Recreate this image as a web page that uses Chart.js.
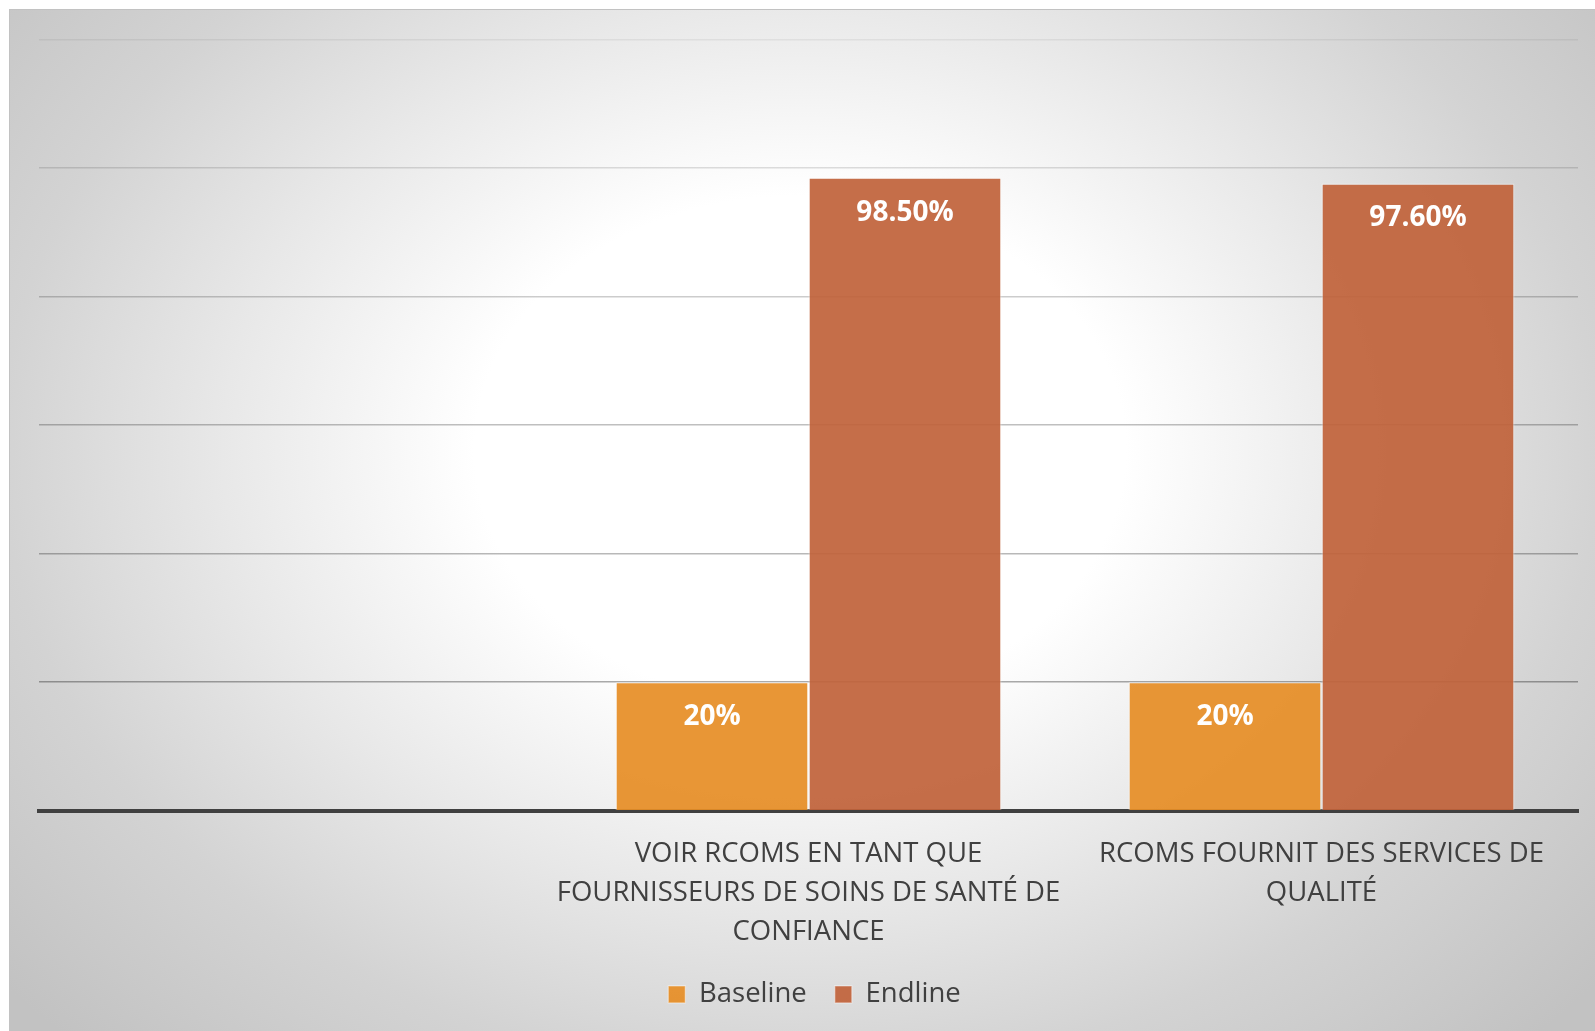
<!DOCTYPE html>
<html>
<head>
<meta charset="utf-8">
<script src="https://cdn.jsdelivr.net/npm/chart.js@4/dist/chart.umd.min.js"></script>
<style>
  html, body { margin: 0; padding: 0; background: #ffffff; }
  #panel {
    position: absolute; left: 9px; top: 9px; width: 1585px; height: 1022px;
    border-top: 1px solid #c2c2c2; border-left: 1px solid #c2c2c2; border-right: 1px solid #bdbdbd;
    background: radial-gradient(ellipse 1050px 820px at 790px 440px, #ffffff 0%, #ffffff 31%, #e8e8e8 55%, #d3d3d3 76%, #c2c2c2 100%);
  }
  #wrap { position: absolute; left: 0; top: 0; width: 1585px; height: 1022px; }
</style>
</head>
<body>
<div id="panel"><div id="wrap"><canvas id="c"></canvas></div></div>
<script>
// ---- data ----
const categories = [
  "",
  ["VOIR RCOMS EN TANT QUE", "FOURNISSEURS DE SOINS DE SANTÉ DE", "CONFIANCE"],
  ["RCOMS FOURNIT DES SERVICES DE", "QUALITÉ"]
];
const seriesNames = ["Baseline", "Endline"];
const baselineValues = [null, 20, 20];
const endlineValues = [null, 98.5, 97.6];
const baselineDecimals = 0;
const endlineDecimals = 2;
const yTicks = [0, 20, 40, 60, 80, 100, 120];

const FONT = "'Open Sans', 'Noto Sans', sans-serif";

const gridAlpha = {120: 0.06, 100: 0.13, 80: 0.2, 60: 0.25, 40: 0.28, 20: 0.33, 0: 0};

const valueLabels = {
  id: 'valueLabels',
  afterDatasetsDraw(chart) {
    const ctx = chart.ctx;
    ctx.save();
    ctx.font = "bold 28px " + FONT;
    ctx.fillStyle = '#ffffff';
    ctx.textAlign = 'center';
    ctx.textBaseline = 'middle';
    chart.data.datasets.forEach((ds, di) => {
      const meta = chart.getDatasetMeta(di);
      meta.data.forEach((bar, i) => {
        const v = ds.data[i];
        if (v === null || v === undefined) return;
        ctx.fillText(v.toFixed(ds.decimals) + '%', bar.x, bar.y + 35);
      });
    });
    ctx.restore();
  }
};

// nudge the legend row slightly right (its centring includes a trailing item padding)
const legendShift = {
  id: 'legendShift',
  afterLayout(chart) {
    if (chart.legend) { chart.legend.left += 6; chart.legend.right += 6; }
  }
};

new Chart(document.getElementById('c'), {
  type: 'bar',
  data: {
    labels: categories,
    datasets: [
      { label: seriesNames[0], data: baselineValues, decimals: baselineDecimals,
        backgroundColor: 'rgba(230,141,37,0.92)', borderColor: 'rgba(255,255,255,0.45)', borderWidth: 1.2 },
      { label: seriesNames[1], data: endlineValues, decimals: endlineDecimals,
        backgroundColor: 'rgba(192,98,58,0.92)', borderColor: 'rgba(255,255,255,0.45)', borderWidth: 1.2 }
    ]
  },
  options: {
    responsive: true,
    maintainAspectRatio: false,
    animation: false,
    layout: { padding: { left: 29, right: 17, top: 29.5, bottom: 13.8 } },
    datasets: { bar: { categoryPercentage: 0.7524, barPercentage: 1.0 } },
    scales: {
      x: {
        grid: { display: false, drawTicks: false },
        border: { display: true, color: '#404040', width: 4 },
        ticks: { color: '#404040', font: { family: FONT, size: 27.5, lineHeight: '39px' }, padding: 24, maxRotation: 0, autoSkip: false },
        afterFit(scale) { scale.height = 142; }
      },
      y: {
        min: 0, max: 120,
        afterBuildTicks(scale) { scale.ticks = yTicks.map(v => ({ value: v })); },
        ticks: { display: false },
        border: { display: false },
        grid: {
          drawTicks: false,
          lineWidth: 1.4,
          color: (c) => 'rgba(0,0,0,' + (gridAlpha[c.tick.value] ?? 0.25) + ')'
        }
      }
    },
    plugins: {
      legend: {
        position: 'bottom',
        labels: { color: '#404040', font: { family: FONT, size: 27.5 }, boxWidth: 17, boxHeight: 17, padding: 28 }
      },
      tooltip: { enabled: false }
    }
  },
  plugins: [valueLabels, legendShift]
});
</script>
</body>
</html>
